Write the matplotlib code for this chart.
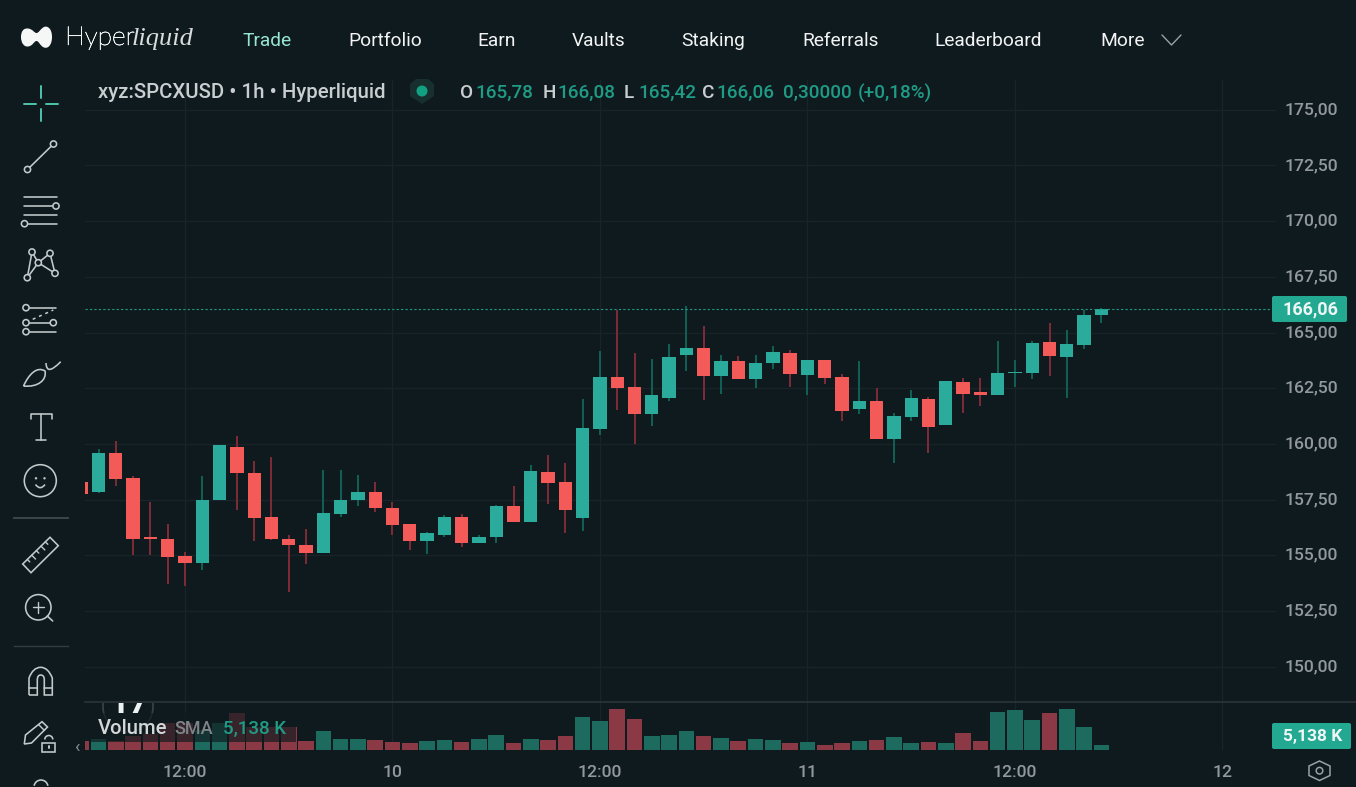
import matplotlib
matplotlib.use("Agg")
import matplotlib.pyplot as plt
import matplotlib.patheffects as pe
from matplotlib.patches import Rectangle, Circle, PathPatch, FancyBboxPatch, Arc, Polygon
from matplotlib.path import Path
from matplotlib.transforms import ScaledTranslation

plt.rcParams['font.family'] = ['Roboto', 'DejaVu Sans']

# Hourly candles; index 0 is 12:00 on the 9th, -6 is the first bar on screen
hours = list(range(-6, 54))
opens = [158.31, 157.86, 159.61, 158.49, 155.84, 155.75, 154.99, 154.67, 157.46, 159.84,
         158.71, 156.74, 155.75, 155.44, 155.12, 156.87, 157.46, 157.82, 157.14, 156.42,
         155.66, 155.93, 156.74, 155.53, 155.80, 157.23, 156.51, 158.76, 158.31, 156.69,
         160.69, 163.02, 162.57, 161.32, 162.08, 164.01, 164.32, 163.07, 163.70, 162.92,
         163.64, 164.09, 163.10, 163.77, 163.01, 161.57, 161.93, 160.23, 161.21, 162.02,
         160.86, 162.79, 162.34, 162.20, 163.16, 163.19, 164.58, 163.91, 164.45, 165.78]
highs = [158.31, 159.78, 160.15, 158.58, 157.41, 156.42, 155.17, 158.58, 159.97, 160.37,
         159.25, 159.39, 155.89, 156.20, 158.85, 158.85, 158.62, 158.31, 157.41, 156.42,
         156.04, 156.83, 156.87, 155.93, 157.28, 158.13, 159.07, 159.52, 159.16, 162.03,
         164.19, 166.03, 164.10, 163.79, 164.50, 166.21, 165.27, 164.01, 163.96, 164.00,
         164.40, 164.22, 163.77, 163.77, 163.14, 163.73, 162.52, 161.39, 162.43, 162.11,
         162.83, 162.97, 162.97, 164.63, 163.77, 164.63, 165.43, 165.12, 166.02, 166.08]
lows = [157.77, 157.79, 158.13, 155.03, 155.03, 153.73, 153.60, 154.36, 157.46, 157.05,
        155.62, 155.68, 153.37, 154.63, 155.10, 156.72, 157.23, 156.96, 155.89, 155.26,
        155.08, 155.84, 155.39, 155.53, 155.57, 156.51, 156.51, 157.32, 156.02, 156.11,
        160.42, 161.50, 160.01, 160.82, 161.94, 163.29, 161.99, 162.26, 162.90, 162.52,
        163.37, 162.56, 162.20, 162.70, 161.04, 161.35, 160.23, 159.15, 161.04, 159.60,
        160.84, 161.39, 161.71, 162.18, 162.56, 162.92, 163.06, 162.07, 164.27, 165.42]
closes = [157.77, 159.61, 158.44, 155.75, 155.71, 154.94, 154.67, 157.50, 159.93, 158.71,
          156.69, 155.71, 155.44, 155.12, 156.92, 157.50, 157.86, 157.14, 156.38, 155.66,
          156.02, 156.74, 155.57, 155.84, 157.23, 156.51, 158.80, 158.26, 157.05, 160.73,
          163.02, 162.53, 161.32, 162.21, 163.92, 164.32, 163.07, 163.70, 162.92, 163.64,
          164.13, 163.14, 163.77, 162.97, 161.48, 161.93, 160.23, 161.26, 162.07, 160.77,
          162.83, 162.25, 162.20, 163.19, 163.23, 164.54, 163.95, 164.49, 165.79, 166.06]
volumes = [9, 10.7, 9, 14, 16, 27, 27, 20, 27, 37,
           23, 23, 23, 9, 19, 11, 11, 10, 8, 7,
           9, 10, 8, 11, 15, 7, 11, 10, 14, 33,
           29, 41, 31, 14, 15, 19, 14, 12, 9, 11,
           10, 7, 8, 5, 7, 9, 10, 13, 7, 8,
           7, 17, 9, 38, 40, 30, 37, 41, 23, 5.138]

price_ticks = [150, 152.5, 155, 157.5, 160, 162.5, 165, 167.5, 170, 172.5, 175]
time_ticks = [0, 12, 24, 36, 48, 60]
time_labels = ['12:00', '10', '12:00', '11', '12:00', '12']
last_price = 166.06

W, H = 1356, 787
BG = '#0f1a1f'
GRID = '#182429'
UP, DOWN = '#2aab9c', '#f45a57'
UP_WICK, DOWN_WICK = '#0f5f54', '#7c2b36'
UP_VOL, DOWN_VOL = '#1d6b5e', '#8b3a45'
AXIS_TEXT = '#92999c'
ICON = '#c3cacc'
ACCENT = '#23a892'

fig = plt.figure(figsize=(W / 100, H / 100), dpi=100, facecolor=BG)


def pane(left, top, right, bottom):
    return fig.add_axes([left / W, 1 - bottom / H, (right - left) / W, (bottom - top) / H],
                        facecolor='none')


def px_x(value):
    return (value - 185) / 17.29


def px_price(value):
    return 165 - (value - 332.5) / 22.28


PL, PR = 84.5, 1276
ax = pane(PL, 80, PR, 702)
ax.set_xlim(px_x(PL), px_x(PR))
ax.set_ylim(px_price(702), px_price(80))
vol = pane(PL, 702, PR, 750)
vol.set_xlim(px_x(PL), px_x(PR))
vol.set_ylim(0, 48)

for a in (ax, vol):
    for s in a.spines.values():
        s.set_visible(False)
    a.set_axisbelow(True)

ax.set_yticks(price_ticks)
ax.set_yticklabels([f'{p:.2f}'.replace('.', ',') for p in price_ticks],
                   color=AXIS_TEXT, fontsize=12.6, fontweight='medium')
ax.yaxis.tick_right()
ax.tick_params(axis='y', length=0, pad=6.2)
raise_labels = ScaledTranslation(0, 1.5 / 100, fig.dpi_scale_trans)
for label in ax.get_yticklabels():
    label.set_transform(label.get_transform() + raise_labels)
ax.set_xticks(time_ticks)
ax.tick_params(axis='x', length=0, labelbottom=False)
ax.grid(True, color=GRID, lw=1)

vol.set_yticks([])
vol.set_xticks(time_ticks)
vol.set_xticklabels(time_labels, color=AXIS_TEXT, fontsize=12.6, fontweight='medium')
vol.tick_params(axis='x', length=0, pad=10.5)
vol.grid(True, axis='x', color=GRID, lw=1)

is_up = [c >= o for o, c in zip(opens, closes)]
ax.vlines(hours, lows, highs, colors=[UP_WICK if u else DOWN_WICK for u in is_up], lw=1.45, zorder=2)
ax.bar(hours, [abs(c - o) for o, c in zip(opens, closes)], bottom=[min(o, c) for o, c in zip(opens, closes)],
       width=0.77, color=[UP if u else DOWN for u in is_up], zorder=3)
ax.axhline(last_price, color='#1f9c85', lw=0.8, ls=(0, (2, 2)), zorder=4)
vol.bar(hours, volumes, width=0.9, color=[UP_VOL if u else DOWN_VOL for u in is_up], zorder=3)

# Overlay in pixel coordinates for the app chrome around the plot
ov = fig.add_axes([0, 0, 1, 1], facecolor='none')
ov.set_xlim(0, W)
ov.set_ylim(H, 0)
ov.axis('off')


def line(*pts, color=ICON, lw=1.15, zorder=6, **kw):
    xs, ys = zip(*pts)
    ov.plot(xs, ys, color=color, lw=lw, solid_capstyle='round', solid_joinstyle='round', zorder=zorder, **kw)


def ring(x, y, r=3.1, color=ICON, lw=1.15, fc=BG):
    ov.add_patch(Circle((x, y), r, fc=fc, ec=color, lw=lw, zorder=7))


def curve(verts, codes, fc='none', ec=ICON, lw=1.15, **kw):
    ov.add_patch(PathPatch(Path(verts, codes), fc=fc, ec=ec, lw=lw, **kw))


M, L, C3, C4, Z = Path.MOVETO, Path.LINETO, Path.CURVE3, Path.CURVE4, Path.CLOSEPOLY

# Separator between price and volume panes
ov.plot([85, W], [702, 702], color='#2b3539', lw=1.2)

# Watermark partly hidden under the pane edge
clip = Rectangle((85, 703), 200, 40, transform=ov.transData)
wm = Circle((128, 707), 25, fc='none', ec='#3a4448', lw=1.2)
ov.add_patch(wm)
wm.set_clip_path(clip)
wm_text = ov.text(129, 703.5, '17', color='#eef1f1', fontsize=25, fontweight='bold', ha='center', va='center',
                  clip_on=True)
wm_text.set_clip_path(clip)

# Translucent backing of the volume legend
ov.add_patch(Rectangle((90, 713), 206, 29, fc=BG, ec='none', alpha=0.68, zorder=4))
for t, x, c, fs in [('Volume', 98, '#d3d7d8', 14.6), ('SMA', 174, '#7d8588', 13), ('5,138 K', 223, '#1f9c85', 13.5)]:
    ov.text(x, 729, t, color=c, fontsize=fs, va='center', fontweight='medium', zorder=6)
ov.text(77, 747, '‹', color='#8a9194', fontsize=13, ha='center', va='center')

# Top navigation
curve([(52, 37), (52, 28), (47, 25.5), (44, 27), (40, 29), (39, 33), (36.5, 33), (34, 33), (33, 29), (28, 28.5),
       (23, 28), (21, 32), (21, 37), (21, 43), (24, 47), (28, 46.5), (33, 46), (34, 41), (36.5, 41), (39, 41),
       (40, 46), (44, 47.5), (48, 49), (52, 45), (52, 37), (52, 37)],
      [M] + [C4] * 24 + [Z], fc='#f5f7f7', ec='none')
ov.text(65, 38, 'Hyper', color='#f2f4f4', fontsize=19, family='Lato', fontweight='light', va='center',
        path_effects=[pe.withStroke(linewidth=0.4, foreground='#f2f4f4')])
ov.text(132, 39, 'liquid', color='#d8dcdc', fontsize=19, family='Liberation Serif', style='italic', va='center')
nav_items = [('Trade', 242, '#97e6d4'), ('Portfolio', 348, '#f2f4f4'), ('Earn', 477, '#f2f4f4'),
             ('Vaults', 572, '#f2f4f4'), ('Staking', 681, '#f2f4f4'), ('Referrals', 802, '#f2f4f4'),
             ('Leaderboard', 934, '#f2f4f4'), ('More', 1100, '#f2f4f4')]
for t, x, c in nav_items:
    ov.text(x, 40.5, t, color=c, fontsize=13.8, family='Roboto', va='center')
line((1162, 35), (1171.5, 45), (1181, 35), color='#9aa1a4', lw=1)

# Symbol legend
ov.text(98, 93, 'xyz:SPCXUSD • 1h • Hyperliquid', color='#c9ced0', fontsize=14.7, fontweight='medium', va='center')
ov.add_patch(Polygon([(410, 84), (416, 79), (428, 79), (434, 84), (434, 96), (422, 104), (410, 96)],
                     fc='#17302f', ec='none'))
ov.add_patch(Circle((422, 91), 5.5, fc='#12a083', ec='none'))
for t, x, c in [('O', 460, '#c9ced0'), ('165,78', 475, '#1f9c85'), ('H', 543, '#c9ced0'), ('166,08', 557, '#1f9c85'),
                ('L', 624, '#c9ced0'), ('165,42', 638, '#1f9c85'), ('C', 702, '#c9ced0'), ('166,06', 716, '#1f9c85'),
                ('0,30000', 783, '#1f9c85'), ('(+0,18%)', 858, '#1f9c85')]:
    ov.text(x, 93, t, color=c, fontsize=13.6, fontweight='medium', va='center')

# Right-hand value tags
for (x0, y0, x1, y1, t, fs) in [(1272, 296, 1347, 322, '166,06', 13), (1272, 723, 1351, 749, '5,138 K', 12.5)]:
    ov.add_patch(FancyBboxPatch((x0 + 1, y0 + 1), x1 - x0 - 2, y1 - y0 - 2, boxstyle='round,pad=1,rounding_size=2',
                                fc=ACCENT, ec='none', zorder=6))
    ov.text(x1 - 9, (y0 + y1) / 2, t, color='#eef7f5', fontsize=fs, fontweight='bold', ha='right', va='center', zorder=7)

# Settings hexagon
ov.add_patch(Polygon([(1319.5, 761), (1330, 766), (1330, 775.5), (1319.5, 780.5), (1309, 775.5), (1309, 766)],
                     fc='none', ec='#9aa1a4', lw=1.1))
ov.add_patch(Circle((1319.5, 770.7), 3.3, fc='none', ec='#9aa1a4', lw=1.1))

# Drawing toolbar icons
teal = '#4fc4ac'
line((41, 86), (41, 98), color=teal, lw=1.4)
line((41, 109), (41, 121), color=teal, lw=1.4)
line((24, 103.7), (36, 103.7), color=teal, lw=1.4)
line((46, 103.7), (58, 103.7), color=teal, lw=1.4)

line((27.5, 169.5), (53.5, 144))
ring(27.5, 169.5)
ring(53.5, 144)

line((24, 196.7), (57, 196.7))
line((24, 206), (53, 206))
ring(56, 206)
line((24, 214.7), (57, 214.7))
line((27, 223.7), (57, 223.7))
ring(24.5, 223.7)

nodes = {'a': (32, 252), 'b': (50, 253.3), 'c': (38.3, 262.7), 'd': (27.3, 277.7), 'e': (55, 273.3)}
for p, q in ['ac', 'cb', 'ad', 'cd', 'ce', 'be']:
    line(nodes[p], nodes[q])
for x, y in nodes.values():
    ring(x, y)

line((26, 307.7), (55.7, 307.7))
ring(26, 307.7)
line((26, 322.7), (53.3, 322.7))
ring(26, 322.7)
ring(53.3, 322.7)
line((26, 331.7), (55.7, 331.7))
ring(26, 331.7)
ov.plot([32.7, 53.3], [319.3, 310], color=ICON, lw=1.1, ls=(0, (2, 2.5)))

curve([(23.5, 386), (29, 374), (37, 366), (45, 371), (47, 380), (38, 387.5), (23.5, 386)],
      [M, C4, C4, C4, C4, C4, C4])
curve([(46, 363), (46.5, 372), (51, 371.5), (60.7, 361.7)], [M, C4, C4, C4])

line((31, 419), (31, 414), (52, 414), (52, 419))
line((41, 414), (41, 440))
line((36, 440), (46, 440))

ring(40.3, 480.7, r=16, fc='none')
ov.add_patch(Circle((36, 478.3), 1.2, fc=ICON, ec='none', zorder=8))
ov.add_patch(Circle((44.5, 478.3), 1.2, fc=ICON, ec='none', zorder=8))
curve([(35.5, 484.5), (40.3, 491), (45, 484.5)], [M, C3, C3], zorder=8)

ov.plot([13.5, 67.7], [517.7, 517.7], color='#3c474a', lw=1.4)
ov.plot([13.5, 67.7], [645.7, 645.7], color='#323d41', lw=1)

ov.add_patch(Polygon([(22.7, 564), (50, 537.3), (58.3, 545.7), (31, 572.7)], fc='none', ec=ICON, lw=1.15))
for fx, ln in [(0.17, 3.5), (0.33, 5.5), (0.5, 3.5), (0.67, 5.5), (0.83, 3.5)]:
    sx, sy = 22.7 + 27.3 * fx, 564 - 26.7 * fx
    line((sx, sy), (sx + ln * 0.7, sy + ln * 0.7), lw=1)

ring(38.3, 607.3, r=12.7, fc='none')
line((32.5, 607.3), (44, 607.3), lw=1, zorder=8)
line((38.3, 601.5), (38.3, 613), lw=1, zorder=8)
line((47.3, 616), (52.7, 621))

curve([(29, 695), (29, 678), (33, 667.3), (40.7, 667.3), (48, 667.3), (52.3, 678), (52.3, 695), (44.3, 695),
       (44.3, 680), (44.3, 675), (40.7, 675), (37.3, 675), (37.3, 680), (37.3, 695), (29, 695)],
      [M, L, C3, C3, C3, C3, L, L, L, C3, C3, C3, C3, L, L])
line((29, 688.3), (37.3, 688.3))
line((44.3, 688.3), (52.3, 688.3))

ov.add_patch(Polygon([(24.3, 744), (25.5, 735), (42, 721.7), (47.5, 727), (31.5, 743)], fc='none', ec=ICON, lw=1.15))
line((38.5, 724.5), (44.5, 730.5), lw=1)
ov.add_patch(Rectangle((42.3, 742.7), 13, 9, fc=BG, ec=ICON, lw=1.15, zorder=5))
ov.add_patch(Arc((48.8, 739.5), 8, 8, theta1=180, theta2=360, ec=ICON, lw=1.15))
line((48.8, 746), (48.8, 748), lw=1.4, zorder=6)
ov.add_patch(Arc((41, 787), 14, 14, theta1=190, theta2=350, ec=ICON, lw=1.15))

fig.savefig('out.png', dpi=100, facecolor=BG)
